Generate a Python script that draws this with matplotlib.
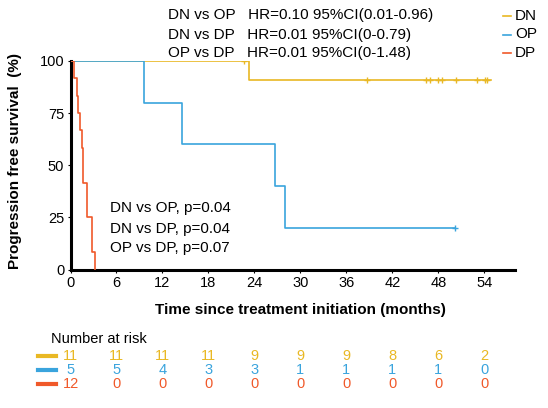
import matplotlib.pyplot as plt
from matplotlib.lines import Line2D
from matplotlib.transforms import blended_transform_factory

plt.rcParams['font.family'] = ['Liberation Sans', 'DejaVu Sans']

groups = ["DN", "OP", "DP"]
colors = ["#E9B824", "#3AA4DD", "#F0592A"]

# step curves (time in months, survival in %)
dn_t = [0, 23.3, 54.9]
dn_s = [100, 90.9, 90.9]
op_t = [0, 9.6, 14.6, 26.7, 28.0, 50.2]
op_s = [100, 80, 60, 40, 20, 20]
dp_t = [0, 0.46, 0.89, 1.02, 1.24, 1.46, 1.67, 2.11, 2.76, 3.2]
dp_s = [100, 91.7, 83.3, 75, 66.7, 58.3, 41.7, 25, 8.3, 0]

# censored observations
dn_cens_t = [22.6, 38.7, 46.4, 46.9, 48.0, 48.5, 50.3, 53.0, 54.1, 54.4]
dn_cens_s = [100, 90.9, 90.9, 90.9, 90.9, 90.9, 90.9, 90.9, 90.9, 90.9]
op_cens_t = [50.2]
op_cens_s = [20]

risk_times = [0, 6, 12, 18, 24, 30, 36, 42, 48, 54]
risk_dn = [11, 11, 11, 11, 9, 9, 9, 8, 6, 2]
risk_op = [5, 5, 4, 3, 3, 1, 1, 1, 1, 0]
risk_dp = [12, 0, 0, 0, 0, 0, 0, 0, 0, 0]

hr_lines = ["DN vs OP   HR=0.10 95%CI(0.01-0.96)",
            "DN vs DP   HR=0.01 95%CI(0-0.79)",
            "OP vs DP   HR=0.01 95%CI(0-1.48)"]
p_lines = ["DN vs OP, p=0.04", "DN vs DP, p=0.04", "OP vs DP, p=0.07"]

W, H = 548, 408
fig = plt.figure(figsize=(W / 100, H / 100), dpi=100)
ax = fig.add_axes([70.5 / W, 1 - 269.5 / H, (515 - 70.5) / W, (269.5 - 61) / H])

curves = [(dn_t, dn_s), (op_t, op_s), (dp_t, dp_s)]
for (t, s), c in zip(curves, colors):
    ax.step(t, s, where="post", color=c, lw=1.2, zorder=3)
ax.plot(dn_cens_t, dn_cens_s, ls="none", marker="+", ms=5, mew=1, color=colors[0], zorder=3)
ax.plot(op_cens_t, op_cens_s, ls="none", marker="+", ms=5, mew=1, color=colors[1], zorder=3)

ax.set_xlim(0, 58)
ax.set_ylim(0, 100)
ax.set_xticks(risk_times)
ax.set_yticks([0, 25, 50, 75, 100])
for sp in ["top", "right"]:
    ax.spines[sp].set_visible(False)
for sp in ["left", "bottom"]:
    ax.spines[sp].set_linewidth(2.2)
ax.tick_params(length=2.5, width=0.8, labelsize=10.5, pad=2)

fig.text(15 / W, 1 - 161 / H, "Progression free survival  (%)", rotation=90,
         ha="center", va="center", fontsize=11, fontweight="bold")
fig.text(300 / W, 1 - 310 / H, "Time since treatment initiation (months)",
         ha="center", va="center", fontsize=11, fontweight="bold")

for i, txt in enumerate(hr_lines):
    fig.text(168 / W, 1 - (15.5 + 19 * i) / H, txt, ha="left", va="center", fontsize=11)
for i, txt in enumerate(p_lines):
    fig.text(110 / W, 1 - (208.5 + 20 * i) / H, txt, ha="left", va="center", fontsize=11)

# legend top right
for i, (g, c) in enumerate(zip(groups, colors)):
    y = 1 - (16 + 18.5 * i) / H
    fig.add_artist(Line2D([503 / W, 511 / W], [y, y], color=c, lw=1.2))
    fig.text(515 / W, y, g, ha="left", va="center", fontsize=11)

# number at risk table
fig.text(51 / W, 1 - 339 / H, "Number at risk", ha="left", va="center", fontsize=10.5)
tr = blended_transform_factory(ax.transData, fig.transFigure)
row_y = [356, 370, 383.5]
for vals, c, yp in zip([risk_dn, risk_op, risk_dp], colors, row_y):
    y = 1 - yp / H
    fig.add_artist(Line2D([38 / W, 56 / W], [y, y], color=c, lw=3))
    for t, v in zip(risk_times, vals):
        ax.text(t, y, str(v), transform=tr, ha="center", va="center",
                fontsize=10.5, color=c, clip_on=False)

fig.savefig("out.png", dpi=100)
